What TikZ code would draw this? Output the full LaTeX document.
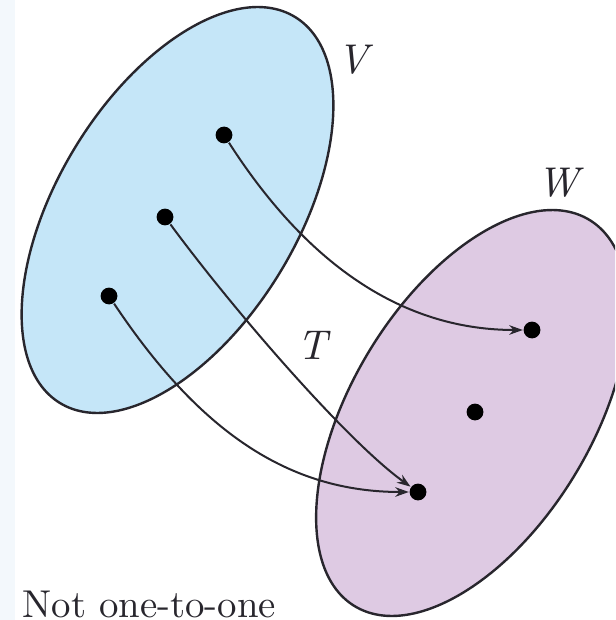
\documentclass[tikz,border=0pt]{standalone}
\usepackage{fontspec}
\usetikzlibrary{shapes.geometric,arrows.meta}

\definecolor{setblue}{RGB}{197,230,248}
\definecolor{setpurple}{RGB}{222,202,227}
\definecolor{rim}{RGB}{40,38,45}
\definecolor{stripblue}{RGB}{243,248,252}

\begin{document}
\begin{tikzpicture}[x=0.25pt, y=-0.25pt,
  every node/.style={font=\rmfamily\fontsize{9.7}{12}\selectfont, text=rim},
  setbox/.style={draw=rim, line width=0.6pt, ellipse, inner sep=0pt,
                 minimum width=113pt, minimum height=60pt, rotate=58.7},
  dot/.style={circle, fill=black, inner sep=0pt, minimum size=4.2pt},
  lbl/.style={font=\rmfamily\fontsize{10.4}{12}\selectfont\itshape},
  ar/.style={-{Stealth[length=3.4pt, width=2.4pt]}, line width=0.5pt, draw=rim}]

\useasboundingbox (0,0) rectangle (615,620);
\clip (0,0) rectangle (615,620);
\fill[stripblue] (0,0) rectangle (15,620);

%% ---- the two sets ----
\node[setbox, fill=setblue]   (V) at (177.5,210) {};
\node[setbox, fill=setpurple] (W) at (472,413)   {};

\node[lbl] (Vlab) at (353,60)  {V};
\node[lbl] (Wlab) at (558,183) {W};
\node[lbl] (Tlab) at (312,345) {T};

%% ---- points ----
\node[dot] (v1) at (224,135) {};
\node[dot] (v2) at (165,217) {};
\node[dot] (v3) at (109,296) {};
\node[dot] (w1) at (532,330) {};
\node[dot] (w2) at (475,412) {};
\node[dot] (w3) at (418,492) {};

%% ---- the map ----
\draw[ar] (v1) .. controls +(90,140) and +(-120,0)  .. (w1);
\draw[ar] (v2) .. controls +(70,95)  and +(-70,-50) .. (w3);
\draw[ar] (v3) .. controls +(90,135) and +(-130,0)  .. (w3);

\node[anchor=base west, inner sep=0pt] (cap) at (22,617) {Not one-to-one};
\end{tikzpicture}
\end{document}
